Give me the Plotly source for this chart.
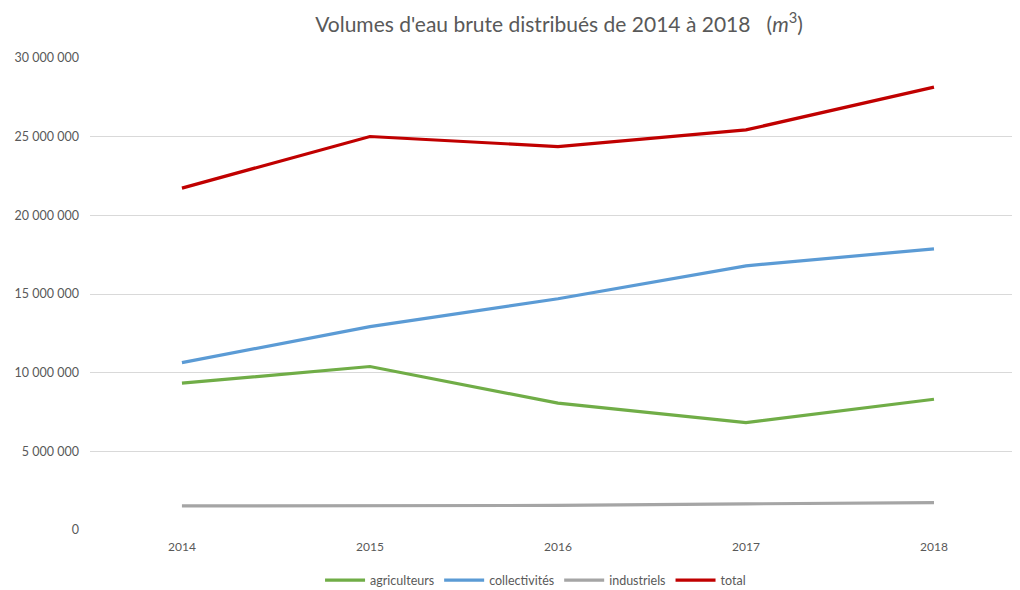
import plotly.graph_objects as go

years = ["2014", "2015", "2016", "2017", "2018"]
agriculteurs = [9330000, 10390000, 8060000, 6830000, 8310000]
collectivites = [10640000, 12930000, 14700000, 16790000, 17870000]
industriels = [1530000, 1550000, 1560000, 1660000, 1740000]
total = [21730000, 25010000, 24370000, 25430000, 28150000]

series_names = ["agriculteurs", "collectivités", "industriels", "total"]
series_values = [agriculteurs, collectivites, industriels, total]
colors = ["#70AD47", "#5B9BD5", "#A5A5A5", "#C00000"]

fig = go.Figure()
for name, vals, col in zip(series_names, series_values, colors):
    fig.add_trace(go.Scatter(x=years, y=vals, mode="lines", name=name,
                             line=dict(color=col, width=3.2)))

font_family = "Lato, 'Open Sans', sans-serif"
fig.update_layout(
    width=1020, height=590,
    margin=dict(l=82, r=0, t=50, b=68),
    paper_bgcolor="white", plot_bgcolor="white",
    separators=", ",
    font=dict(family=font_family, color="#595959", size=12),
    title=dict(text="Volumes d'eau brute distribués de 2014 à 2018   (<i>m</i><sup>3</sup>)",
               x=0.5, xref="paper", xanchor="center", y=0.972, yanchor="middle",
               font=dict(family=font_family, size=21, color="#595959")),
    showlegend=True,
    legend=dict(orientation="h", x=0.475, xanchor="center", y=-0.075, yanchor="top",
                font=dict(size=12.5, color="#595959"), itemwidth=40, tracegroupgap=0),
)
fig.update_xaxes(type="category", range=[-0.489, 4.5], showgrid=False, zeroline=False,
                 showline=False, ticks="", tickfont=dict(size=12, color="#595959"),
                 ticklabelstandoff=8)
fig.update_yaxes(range=[0, 30000000], dtick=5000000, tickformat=",d", showgrid=True,
                 gridcolor="#D9D9D9", gridwidth=1, zeroline=False, showline=False,
                 ticks="", ticklabelstandoff=10, tickfont=dict(size=12.5, color="#595959"))

fig.write_html("out.html")
